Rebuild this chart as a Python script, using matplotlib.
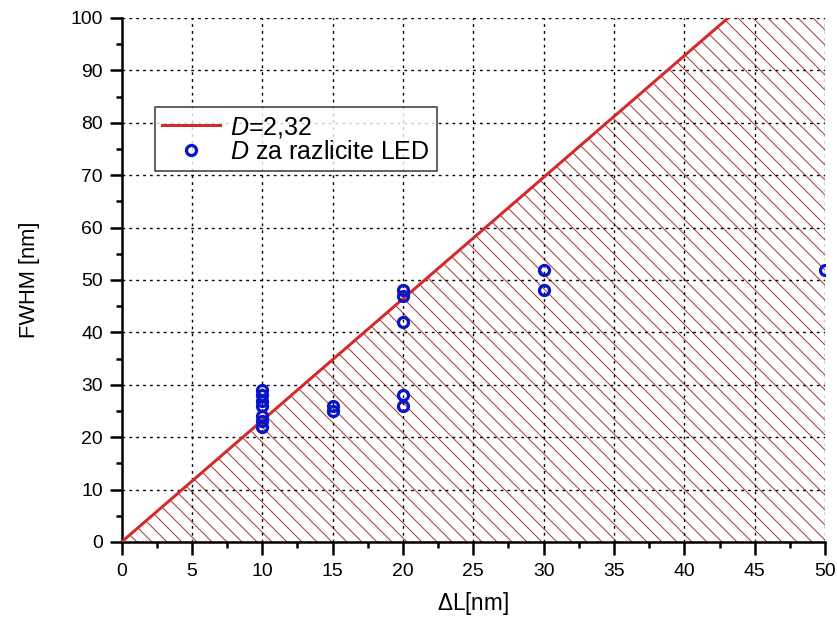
import matplotlib
matplotlib.use("Agg")
import matplotlib.pyplot as plt
from matplotlib.ticker import MultipleLocator

plt.rcParams['font.family'] = ['Liberation Sans', 'DejaVu Sans']
plt.rcParams['mathtext.fontset'] = 'custom'
plt.rcParams['mathtext.rm'] = 'Liberation Sans'
plt.rcParams['mathtext.it'] = 'Liberation Sans:italic'
plt.rcParams['hatch.linewidth'] = 0.8

# granica D = FWHM / dL
D = 2.32
x_max = 50
y_max = 100

# izmjerene LED diode
dl = [10, 10, 10, 10, 10, 10, 10, 15, 15, 20, 20, 20, 20, 20, 30, 30, 50]
fwhm = [29, 28, 27, 26, 24, 23, 22, 26, 25, 48, 47, 42, 28, 26, 52, 48, 52]

fig = plt.figure(figsize=(837 / 90, 625 / 90), dpi=90)
ax = fig.add_axes([0.1452, 0.1328, 0.8405, 0.8384])

x_top = y_max / D
# srafirano podrucje ispod pravca
ax.fill_between([0, x_top, x_max], [0, y_max, y_max], 0, facecolor='none',
                edgecolor='#a03a3a', hatch='\\\\', linewidth=0, zorder=1)
ax.plot([0, x_top], [0, y_max], color='#d42a2a', lw=2.4, zorder=3,
        label=r'$\mathit{D}$=2,32')
ax.plot(dl, fwhm, 'o', ms=8, mfc='none', mec='#0a14c8', mew=2.6, zorder=4,
        label=r'$\mathit{D}$ za razlicite LED')

ax.set_xlim(0, x_max)
ax.set_ylim(0, y_max)
ax.xaxis.set_major_locator(MultipleLocator(5))
ax.xaxis.set_minor_locator(MultipleLocator(2.5))
ax.yaxis.set_major_locator(MultipleLocator(10))
ax.yaxis.set_minor_locator(MultipleLocator(5))

ax.grid(True, which='major', color='black', linestyle=(0, (2, 3)), lw=1.1, zorder=2)
ax.set_axisbelow(False)
for s in ['top', 'right']:
    ax.spines[s].set_visible(False)
for s in ['left', 'bottom']:
    ax.spines[s].set_linewidth(2)
ax.tick_params(which='major', length=10, width=2, labelsize=15.5)
ax.tick_params(which='minor', length=5, width=2)
ax.tick_params(axis='x', which='major', pad=7)
ax.tick_params(axis='y', which='major', pad=5)

ax.set_xlabel(r'$\Delta$L[nm]', fontsize=18, labelpad=8)
ax.set_ylabel('FWHM [nm]', fontsize=17.5, labelpad=24)

leg = ax.legend(loc='upper left', bbox_to_anchor=(0.047, 0.83), fontsize=20,
                frameon=True, fancybox=False, edgecolor='black',
                handlelength=2.3, borderpad=0.3, labelspacing=0.0,
                handletextpad=0.4, borderaxespad=0)
leg.get_frame().set_linewidth(1.2)
leg.set_zorder(5)

fig.savefig('out.png', dpi=90, facecolor='white')
